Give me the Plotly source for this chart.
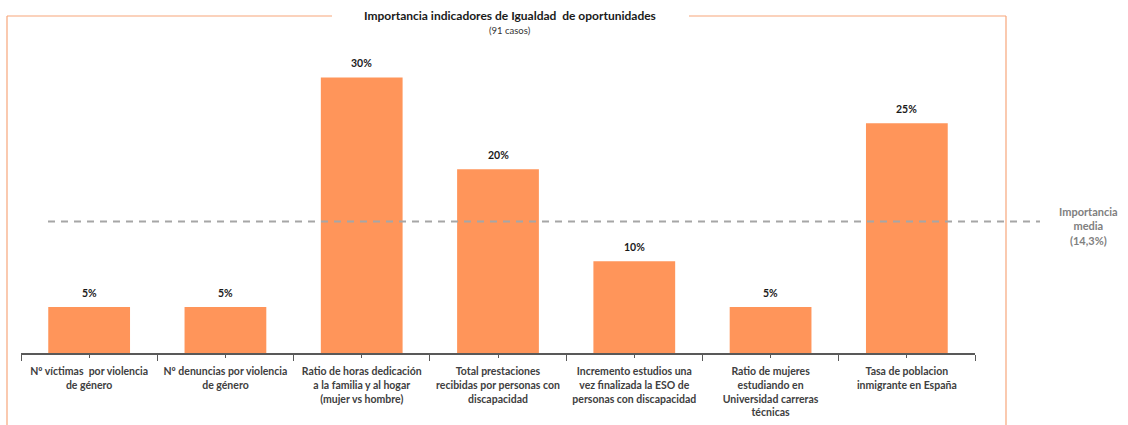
import plotly.graph_objects as go

# Indicadores y su importancia (% de casos)
categorias = [
    "Nº víctimas  por violencia<br>de género",
    "Nº denuncias por violencia<br>de género",
    "Ratio de horas dedicación<br>a la familia y al hogar<br>(mujer vs hombre)",
    "Total prestaciones<br>recibidas por personas con<br>discapacidad",
    "Incremento estudios una<br>vez finalizada la ESO de<br>personas con discapacidad",
    "Ratio de mujeres<br>estudiando en<br>Universidad carreras<br>técnicas",
    "Tasa de poblacion<br>inmigrante en España",
]
importancia = [5, 5, 30, 20, 10, 5, 25]
importancia_media = 14.3
titulo = "Importancia indicadores de Igualdad  de oportunidades"
subtitulo = "(91 casos)"
etiqueta_media = "Importancia<br>media<br>(14,3%)"

W, H = 1128, 425
ML, MR, MT, MB = 21, 153, 59, 72
PW, PH = W - ML - MR, H - MT - MB

FONT = "Lato, 'Open Sans', sans-serif"
BAR = "#FF955A"
FRAME = "#F7A67B"


def px_x(px):
    return (px - ML) / PW


def px_y(py):
    return (H - MB - py) / PH


pos = list(range(len(categorias)))

fig = go.Figure()
fig.add_trace(go.Bar(
    x=pos, y=importancia, width=0.6,
    marker=dict(color=BAR, line=dict(width=0)),
    hoverinfo="skip",
))

shapes = [
    # marco
    dict(type="line", xref="paper", yref="paper", x0=px_x(7), x1=px_x(332),
         y0=px_y(16), y1=px_y(16), line=dict(color=FRAME, width=1.2)),
    dict(type="line", xref="paper", yref="paper", x0=px_x(689), x1=px_x(1006),
         y0=px_y(16), y1=px_y(16), line=dict(color=FRAME, width=1.2)),
    dict(type="line", xref="paper", yref="paper", x0=px_x(7), x1=px_x(7),
         y0=px_y(16), y1=px_y(430), line=dict(color=FRAME, width=1.2)),
    dict(type="line", xref="paper", yref="paper", x0=px_x(1006), x1=px_x(1006),
         y0=px_y(16), y1=px_y(430), line=dict(color=FRAME, width=1.2)),
    # línea de importancia media
    dict(type="line", xref="paper", yref="y", x0=px_x(48), x1=px_x(1040),
         y0=importancia_media, y1=importancia_media,
         line=dict(color="#A6A6A6", width=2, dash="7px,6px")),
]

annotations = [
    dict(text=f"<b>{titulo}</b>", xref="paper", yref="paper", x=px_x(510), y=px_y(16),
         showarrow=False, font=dict(family=FONT, size=12, color="#1a1a1a"),
         xanchor="center", yanchor="middle"),
    dict(text=subtitulo, xref="paper", yref="paper", x=px_x(510), y=px_y(30),
         showarrow=False, font=dict(family=FONT, size=9.5, color="#333333"),
         xanchor="center", yanchor="middle"),
    dict(text=f"<b>{etiqueta_media}</b>", xref="paper", yref="y", x=px_x(1088),
         y=importancia_media, yshift=-4, showarrow=False,
         font=dict(family=FONT, size=11, color="#808080"),
         xanchor="center", yanchor="middle"),
]
# etiquetas de valor sobre cada barra
for p, v in zip(pos, importancia):
    annotations.append(dict(
        text=f"<b>{v}%</b>", x=p, y=v, xref="x", yref="y",
        showarrow=False, yanchor="bottom", yshift=6,
        font=dict(family=FONT, size=10.5, color="#1a1a1a"),
    ))

fig.update_layout(
    width=W, height=H,
    margin=dict(l=ML, r=MR, t=MT, b=MB),
    paper_bgcolor="white", plot_bgcolor="white",
    showlegend=False, bargap=0.4,
    shapes=shapes, annotations=annotations,
    xaxis=dict(
        range=[-0.5, len(categorias) - 0.5],
        tickvals=pos, ticktext=[f"<b>{c}</b>" for c in categorias],
        tickfont=dict(family=FONT, size=10.5, color="#404040"),
        ticklabelstandoff=5, automargin=False,
        ticks="outside", ticklen=3, tickcolor="#595959", tickwidth=1,
        showline=True, linecolor="#595959", linewidth=1.5,
        showgrid=False, zeroline=False, fixedrange=True,
        minor=dict(tickvals=[p - 0.5 for p in pos] + [len(pos) - 0.5],
                   ticks="outside", ticklen=6, tickcolor="#595959", tickwidth=1.2,
                   showgrid=False),
    ),
    yaxis=dict(range=[0, 32], visible=False, fixedrange=True),
)

fig.write_html("out.html")
